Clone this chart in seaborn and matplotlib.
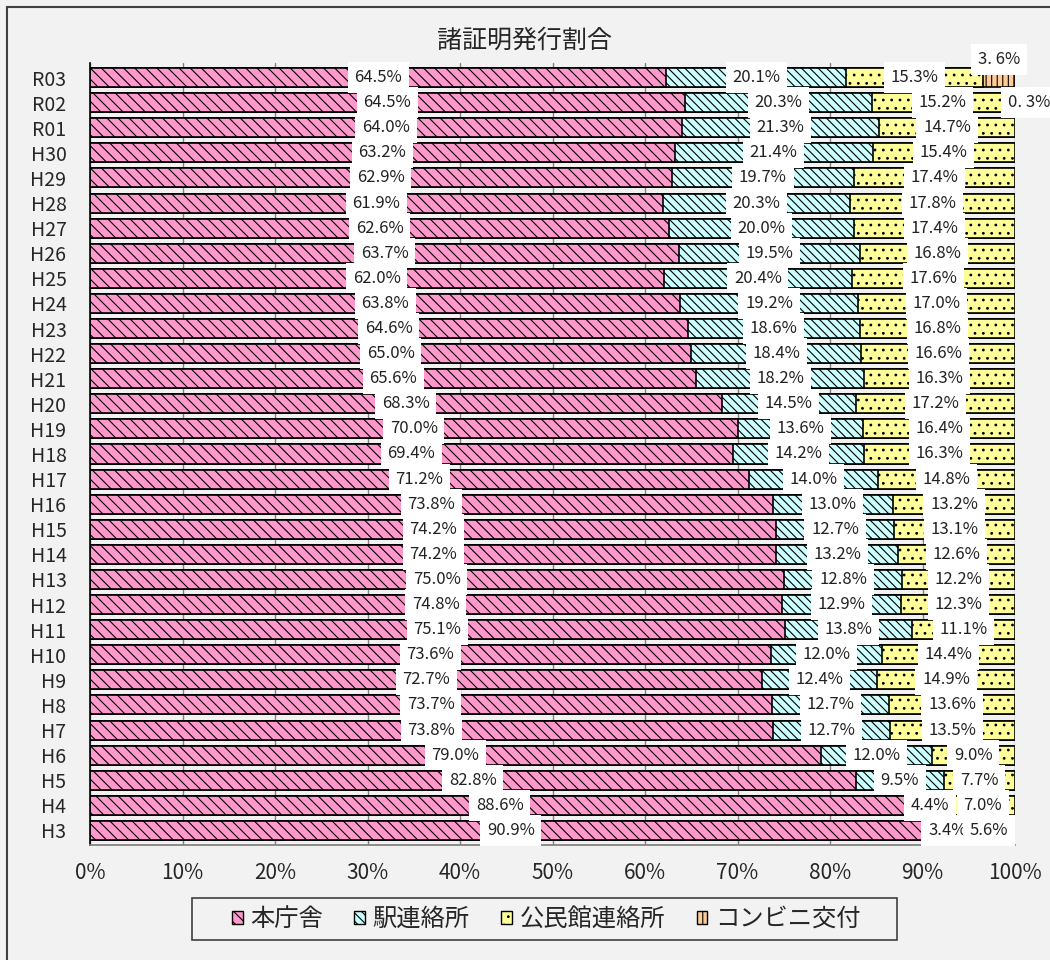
import numpy as np
import pandas as pd
import seaborn as sns
import matplotlib.pyplot as plt
from matplotlib.patches import Patch, Rectangle

# 年度（上から下へ）
NENDO = ['R03', 'R02', 'R01', 'H30', 'H29', 'H28', 'H27', 'H26', 'H25', 'H24',
         'H23', 'H22', 'H21', 'H20', 'H19', 'H18', 'H17', 'H16', 'H15', 'H14',
         'H13', 'H12', 'H11', 'H10', 'H9', 'H8', 'H7', 'H6', 'H5', 'H4', 'H3']

HONCHOSHA = [64.5, 64.5, 64.0, 63.2, 62.9, 61.9, 62.6, 63.7, 62.0, 63.8,
             64.6, 65.0, 65.6, 68.3, 70.0, 69.4, 71.2, 73.8, 74.2, 74.2,
             75.0, 74.8, 75.1, 73.6, 72.7, 73.7, 73.8, 79.0, 82.8, 88.6, 90.9]
EKI = [20.1, 20.3, 21.3, 21.4, 19.7, 20.3, 20.0, 19.5, 20.4, 19.2,
       18.6, 18.4, 18.2, 14.5, 13.6, 14.2, 14.0, 13.0, 12.7, 13.2,
       12.8, 12.9, 13.8, 12.0, 12.4, 12.7, 12.7, 12.0, 9.5, 4.4, 3.4]
KOMINKAN = [15.3, 15.2, 14.7, 15.4, 17.4, 17.8, 17.4, 16.8, 17.6, 17.0,
            16.8, 16.6, 16.3, 17.2, 16.4, 16.3, 14.8, 13.2, 13.1, 12.6,
            12.2, 12.3, 11.1, 14.4, 14.9, 13.6, 13.5, 9.0, 7.7, 7.0, 5.6]
KONBINI = [3.6, 0.3] + [0.0] * 29

SERIES = ['本庁舎', '駅連絡所', '公民館連絡所', 'コンビニ交付']
COLORS = ['#FF99CC', '#CCFFFF', '#FFFF99', '#FFCC99']
HATCHES = ['\\\\\\', '\\\\\\\\', '..', '|||']

BG = '#F2F2F2'
FONT = ['Noto Sans CJK JP', 'DejaVu Sans']

sns.set_theme(style='white')
plt.rcParams['font.family'] = FONT
plt.rcParams['hatch.color'] = 'black'
plt.rcParams['hatch.linewidth'] = 0.8

df = pd.DataFrame({'年度': NENDO, '本庁舎': HONCHOSHA, '駅連絡所': EKI,
                   '公民館連絡所': KOMINKAN, 'コンビニ交付': KONBINI})
total = df[SERIES].sum(axis=1)
pct = df[SERIES].div(total, axis=0) * 100  # 100%積み上げ
cum = pct.cumsum(axis=1)

fig = plt.figure(figsize=(10.5, 9.6), dpi=100, facecolor=BG)
ax = fig.add_axes([90 / 1050, 1 - 845 / 960, 925 / 1050, 782 / 960])
ax.set_facecolor(BG)

# 外枠
fig.patches.append(Rectangle((7 / 1050, -0.1), 1.2, 1 - 7 / 960 + 0.1,
                             transform=fig.transFigure, fill=False,
                             edgecolor='#404040', linewidth=1.5))

# 右端から順に重ねて描く
for i in range(len(SERIES) - 1, -1, -1):
    d = pd.DataFrame({'年度': NENDO, 'x': cum[SERIES[i]].values})
    sns.barplot(data=d, y='年度', x='x', order=NENDO, orient='h',
                color=COLORS[i], saturation=1, width=0.76,
                edgecolor='black', linewidth=1.2, hatch=HATCHES[i], ax=ax)

# ラベル
bbox = dict(boxstyle='square,pad=0.4', facecolor='white', edgecolor='none')
for r, nendo in enumerate(NENDO):
    for i, s in enumerate(SERIES):
        v = df.loc[r, s]
        if v <= 0:
            continue
        center = cum.loc[r, s] - pct.loc[r, s] / 2
        if s == 'コンビニ交付':
            txt = f'{v:.1f}'.replace('.', '. ') + '%'
            off = (0, 13) if r == 0 else (11, 0)
            ax.annotate(txt, (center, r), xytext=off, textcoords='offset points',
                        ha='center', va='center', fontsize=12, bbox=bbox,
                        color='#222222')
        else:
            ax.text(center, r, f'{v:.1f}%', ha='center', va='center',
                    fontsize=12, bbox=bbox, color='#222222')

ax.set_xlim(0, 100)
ax.set_ylim(len(NENDO) - 0.42, -0.58)
ax.set_xticks(np.arange(0, 101, 10))
ax.set_xticklabels([f'{t}%' for t in range(0, 101, 10)], fontsize=15)
ax.tick_params(axis='x', length=0, pad=12)
ax.tick_params(axis='y', which='major', length=0, labelsize=14, pad=17)
ax.set_yticks(np.arange(len(NENDO) + 1) - 0.5, minor=True)
ax.tick_params(axis='y', which='minor', length=5, color='black', width=1)
ax.set_xlabel('')
ax.set_ylabel('')
ax.set_axisbelow(True)
ax.grid(axis='x', color='#808080', linewidth=1)
ax.grid(axis='y', visible=False)
for side in ['top', 'right']:
    ax.spines[side].set_visible(False)
ax.spines['left'].set_color('black')
ax.spines['left'].set_linewidth(1.2)
ax.spines['bottom'].set_color('#808080')

fig.text(0.5, 1 - 41 / 960, '諸証明発行割合', ha='center', va='center', fontsize=18)

# 凡例（枠は別に描く）
fig.patches.append(Rectangle((192 / 1050, 1 - 940 / 960), 705 / 1050, 42 / 960,
                             transform=fig.transFigure, facecolor=BG,
                             edgecolor='#404040', linewidth=1.2))
handles = [Patch(facecolor=c, edgecolor='black', hatch=h, linewidth=1)
           for c, h in zip(COLORS, HATCHES)]
fig.legend(handles, SERIES, loc='center', bbox_to_anchor=(546 / 1050, 1 - 919 / 960),
           ncol=4, fontsize=17.5, frameon=False,
           handlelength=0.45, handleheight=0.45, handletextpad=0.3,
           columnspacing=1.3, borderpad=0.3)

fig.savefig('out.png', dpi=100, facecolor=BG)
